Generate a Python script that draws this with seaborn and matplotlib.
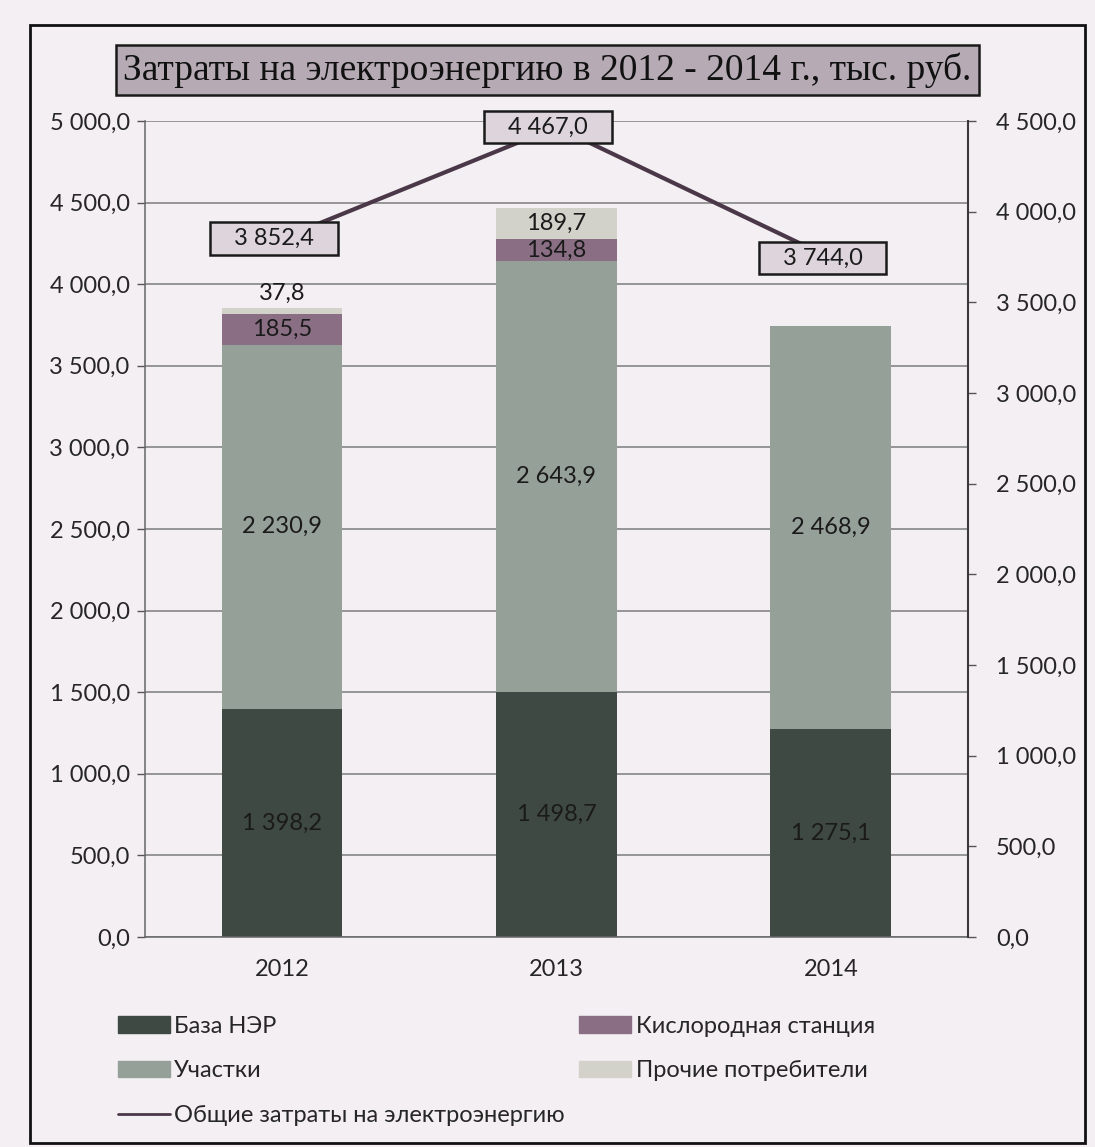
import matplotlib
matplotlib.use("Agg")
import matplotlib.pyplot as plt
from matplotlib.lines import Line2D
from matplotlib.patches import Patch, Rectangle
import numpy as np
import pandas as pd
import seaborn as sns

years = ["2012", "2013", "2014"]
base_ner = [1398.2, 1498.7, 1275.1]
sections = [2230.9, 2643.9, 2468.9]
oxygen = [185.5, 134.8, 0.0]
other = [37.8, 189.7, 0.0]
total = [3852.4, 4467.0, 3744.0]

series_names = ["База НЭР", "Участки", "Кислородная станция", "Прочие потребители"]
line_name = "Общие затраты на электроэнергию"
title = "Затраты на электроэнергию в 2012 - 2014 г., тыс. руб."
left_ticks = np.arange(0, 5001, 500)
right_ticks = np.arange(0, 4501, 500)

colors = ["#3f4943", "#95a098", "#8a6f84", "#d2d2ca"]
line_color = "#4a3848"
bg = "#f4eff3"


def ru(value):
    return f"{value:,.1f}".replace(",", " ").replace(".", ",")


frame = pd.DataFrame({"year": years, series_names[0]: base_ner, series_names[1]: sections,
                      series_names[2]: oxygen, series_names[3]: other})
cum = frame[series_names].cumsum(axis=1)

sns.set_theme(style="white")
plt.rcParams["font.family"] = ["Lato", "DejaVu Sans"]

fig = plt.figure(figsize=(10.95, 11.47), dpi=100, facecolor=bg)
ax = fig.add_axes([0.1324, 0.1831, 0.7516, 0.7114])
ax.set_facecolor("none")

# stacked bars: draw cumulative heights from the top segment down
for name, color in reversed(list(zip(series_names, colors))):
    sns.barplot(x=frame["year"], y=cum[name], color=color, saturation=1, width=0.44,
                ax=ax, zorder=2, linewidth=0)

for i in range(len(years)):
    for name in series_names:
        value = frame.loc[i, name]
        if value <= 0:
            continue
        top = cum.loc[i, name]
        if value < 60:
            ax.text(i, top + 25, ru(value), ha="center", va="bottom", fontsize=17, color="#1a1a1a", zorder=5)
        else:
            ax.text(i, top - value / 2, ru(value), ha="center", va="center", fontsize=17, color="#1a1a1a", zorder=5)

ax.set_xlim(-0.5, len(years) - 0.5)
ax.set_ylim(0, 5000)
ax.set_yticks(left_ticks)
ax.set_yticklabels([ru(v) for v in left_ticks], fontsize=17)
ax.set_xticks(range(len(years)))
ax.set_xticklabels(years, fontsize=17)
ax.set_xlabel("")
ax.set_ylabel("")
ax.set_xticks(np.arange(-0.5, len(years)), minor=True)
ax.tick_params(axis="x", which="major", length=0, pad=16)
ax.tick_params(axis="x", which="minor", length=6, direction="out", color="#555555", width=1)
ax.tick_params(axis="y", length=6, direction="out", color="#555555", width=1, left=True, pad=5)
ax.yaxis.grid(True, color="#7d7d7d", linewidth=1.1, zorder=0)
ax.set_axisbelow(True)
for side in ["top", "right"]:
    ax.spines[side].set_visible(False)
for side in ["left", "bottom"]:
    ax.spines[side].set_color("#666666")
    ax.spines[side].set_linewidth(1.1)

ax2 = ax.twinx()
sns.lineplot(x=range(len(years)), y=total, ax=ax2, color=line_color, linewidth=3, zorder=3)
for i, t in enumerate(total):
    ax2.text(i - 0.03, t, "   " + ru(t) + "   ", ha="center", va="center", fontsize=17, color="#1a1a1a",
             zorder=6, bbox=dict(boxstyle="square,pad=0.25", fc="#ddd5db", ec="#1a1a1a", lw=1.8))
ax2.set_ylim(0, 4500)
ax2.set_yticks(right_ticks)
ax2.set_yticklabels([ru(v) for v in right_ticks], fontsize=17)
ax2.tick_params(axis="y", length=6, direction="out", color="#555555", width=1, right=True, pad=14)
ax2.grid(False)
for side in ["top", "left", "bottom"]:
    ax2.spines[side].set_visible(False)
ax2.spines["right"].set_color("#3a3a3a")
ax2.spines["right"].set_linewidth(1.5)

fig.text(0.5, 0.939, title, ha="center", va="center", fontsize=27, family="Liberation Serif", color="#111111",
         bbox=dict(boxstyle="square,pad=0.2", fc="#b6abb4", ec="#1a1a1a", lw=1.8))

handles = [Patch(color=colors[0]), Patch(color=colors[1]),
           Line2D([], [], color=line_color, linewidth=2),
           Patch(color=colors[2]), Patch(color=colors[3])]
labels = [series_names[0], series_names[1], line_name, series_names[2], series_names[3]]
fig.legend(handles, labels, ncol=2, loc="upper left", bbox_to_anchor=(0.088, 0.133),
           frameon=False, fontsize=17, handlelength=2.2, handleheight=0.7, handletextpad=0.2,
           labelspacing=1.0, columnspacing=0.6)

fig.add_artist(Rectangle((30 / 1095, 1 - 1143 / 1147), 1055 / 1095, 1118 / 1147,
                         transform=fig.transFigure, fill=False, ec="#111111", lw=2))

fig.savefig("out.png", dpi=100, facecolor=bg)
